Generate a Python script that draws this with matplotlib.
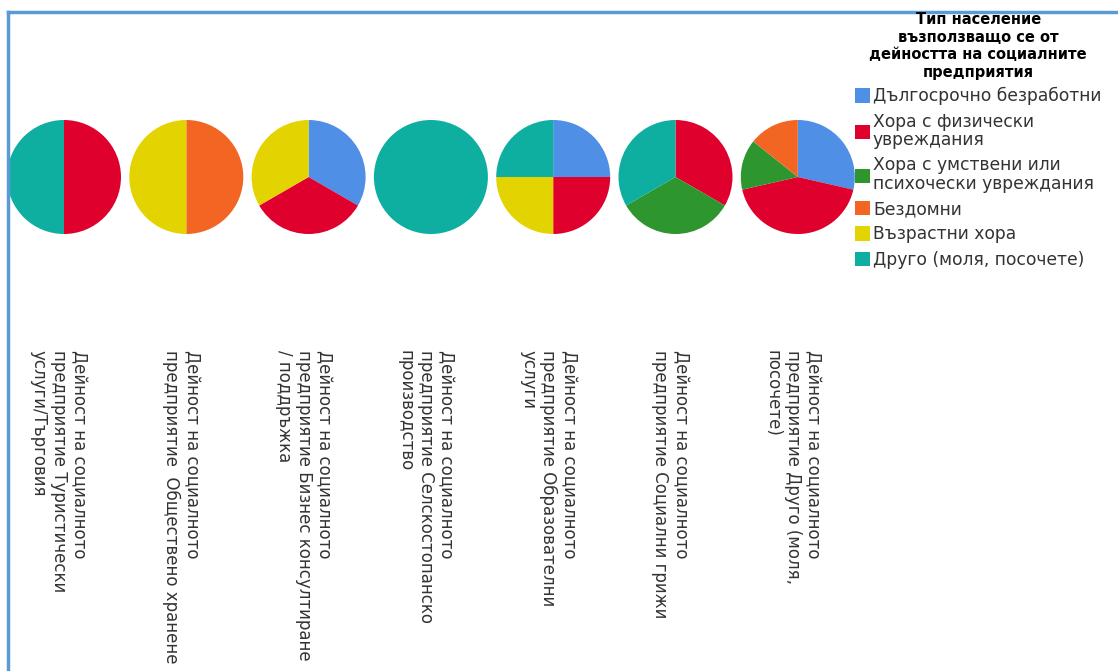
import matplotlib.pyplot as plt
from matplotlib.patches import Patch
from matplotlib.lines import Line2D

groups = ["Дългосрочно безработни", "Хора с физически\nувреждания",
          "Хора с умствени или\nпсихочески увреждания", "Бездомни",
          "Възрастни хора", "Друго (моля, посочете)"]
colors = ["#4f8fe6", "#e0002e", "#2e962e", "#f26522", "#e3d300", "#0eaea0"]

activities = [
    "Дейност на социалното\nпредприятие Туристически\nуслуги/Търговия",
    "Дейност на социалното\nпредприятие  Обществено хранене",
    "Дейност на социалното\nпредприятие Бизнес консултиране\n/ поддръжка",
    "Дейност на социалното\nпредприятие Селскостопанско\nпроизводство",
    "Дейност на социалното\nпредприятие Образователни\nуслуги",
    "Дейност на социалното\nпредприятие Социални грижи",
    "Дейност на социалното\nпредприятие Друго (моля,\nпосочете)",
]
# counts per group (order as groups)
turizam = [0, 1, 0, 0, 0, 1]
hranene = [0, 0, 0, 1, 1, 0]
biznes = [1, 1, 0, 0, 1, 0]
selsko = [0, 0, 0, 0, 0, 1]
obrazov = [1, 1, 0, 0, 1, 1]
grizhi = [0, 1, 1, 0, 0, 1]
drugo = [2, 3, 1, 1, 0, 0]
values = [turizam, hranene, biznes, selsko, obrazov, grizhi, drugo]

W, H = 1118, 671
fig = plt.figure(figsize=(W / 100, H / 100), dpi=100)

# frame lines (top and left)
fig.add_artist(Line2D([8 / W, 1117 / W], [1 - 12 / H, 1 - 12 / H], color="#5b9bd5", lw=2.5))
fig.add_artist(Line2D([8 / W, 8 / W], [0, 1 - 12 / H], color="#5b9bd5", lw=2.5))

r = 57
cy = 177
for i, (vals, lab) in enumerate(zip(values, activities)):
    cx = 64 + i * 122.3
    ax = fig.add_axes([(cx - r) / W, 1 - (cy + r) / H, 2 * r / W, 2 * r / H])
    v = [x for x in vals if x > 0]
    c = [colors[j] for j, x in enumerate(vals) if x > 0]
    ax.pie(v, colors=c, startangle=90, counterclock=False, radius=1)
    ax.set_xlim(-1, 1)
    ax.set_ylim(-1, 1)
    ax.set_aspect("auto")
    ax.axis("off")
    fig.text((cx - 5) / W, 1 - 350 / H, lab, rotation=270, ha="center", va="top",
             multialignment="left", fontsize=12, color="#333333", linespacing=1.15)

handles = [Patch(facecolor=col) for col in colors]
leg = fig.legend(handles, groups, loc="upper left", bbox_to_anchor=(855 / W, 1 - 12 / H),
                 frameon=False,
                 title="Тип население\nвъзползващо се от\nдейността на социалните\nпредприятия",
                 title_fontproperties={"weight": "bold", "size": 10.5},
                 fontsize=12.3, handlelength=0.9, handleheight=0.9, handletextpad=0.15,
                 labelspacing=0.42, borderaxespad=0, borderpad=0, labelcolor="#333333")
leg.get_title().set_multialignment("center")
leg.get_title().set_linespacing(1.22)
for t in leg.get_texts():
    t.set_linespacing(1.05)

fig.savefig("out.png", dpi=100)
